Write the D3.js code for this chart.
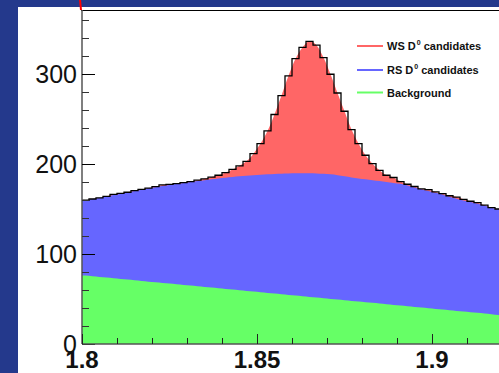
<!DOCTYPE html>
<html><head><meta charset="utf-8">
<script src="https://cdn.jsdelivr.net/npm/d3@7"></script>
<style>html,body{margin:0;padding:0;background:#24398c;overflow:hidden}</style>
</head><body>
<script>
// D0 mass bins: 2 MeV wide starting at 1.800 GeV
const binStart = 1.8, binWidth = 0.002;
const background = [76.0,75.3,74.5,73.8,73.0,72.3,71.6,70.8,70.1,69.3,68.6,67.9,67.1,66.4,65.6,64.9,64.2,63.4,62.7,61.9,
  61.2,60.5,59.7,59.0,58.2,57.5,56.8,56.0,55.3,54.5,53.8,53.1,52.3,51.6,50.8,50.1,49.4,48.6,47.9,47.1,
  46.4,45.7,44.9,44.2,43.4,42.7,42.0,41.2,40.5,39.7,39.0,38.3,37.5,36.8,36.0,35.3,34.6,33.8,33.1,32.3];
const rsCandidates = [83.7,85.7,87.8,90.0,92.5,94.7,96.9,99.2,101.4,103.7,105.7,107.7,109.7,111.6,113.4,115.1,116.8,118.6,120.3,122.1,
  123.6,125.1,126.6,128.0,129.4,130.6,131.8,133.0,134.0,135.0,135.9,136.7,137.4,137.9,138.3,138.4,138.2,137.7,137.1,136.9,
  136.6,136.3,136.1,135.8,135.6,135.3,134.0,132.8,131.5,130.3,129.0,127.7,126.0,124.7,123.5,122.4,121.2,120.2,118.2,117.2];
const wsCandidates = [0,0.1,0,0.2,0.8,0.4,0.1,0.4,0.4,0.3,0.5,1.1,0.5,0.3,0.3,0.5,1.0,1.5,2.5,3.5,
  5.7,8.4,11.7,16.0,23.9,34.6,48.1,66.0,86.7,108.5,127.3,139.7,146.6,142.5,129.1,111.2,91.3,72.3,53.2,38.7,
  26.7,18.4,12.0,7.5,6.0,2.5,1.5,1.0,0.3,1.5,1.0,1.0,1.2,1.8,1.3,0.9,1.2,0.3,0.2,0.5];
const yTicks = [0,100,200,300];
const xTicks = [1.8,1.85,1.9];
const legendItems = [
  {label:"WS D", sup:"0", rest:" candidates", color:"#ff6666"},
  {label:"RS D", sup:"0", rest:" candidates", color:"#6666ff"},
  {label:"Background", sup:"", rest:"", color:"#66ff66"}
];

const W = 499, H = 373;
const svg = d3.select("body").append("svg").attr("width", W).attr("height", H);
svg.append("rect").attr("width", W).attr("height", H).attr("fill", "#24398c");
svg.append("rect").attr("x", 18).attr("y", 7).attr("width", W - 18).attr("height", H - 7).attr("fill", "#ffffff");
svg.append("line").attr("x1", 80).attr("x2", 81).attr("y1", 0).attr("y2", 10)
  .attr("stroke", "#ff0000").attr("stroke-width", 2);

const x = d3.scaleLinear().domain([1.8, 1.92]).range([82, 502]);
const y = d3.scaleLinear().domain([0, 371.1]).range([344, 10]);

const rows = background.map((b, i) => ({
  m: binStart + binWidth * (i + 0.5),
  lo: binStart + binWidth * i,
  bg: b, rs: rsCandidates[i], ws: wsCandidates[i]
}));
const stack = d3.stack().keys(["bg", "rs", "ws"])(rows);

svg.append("clipPath").attr("id", "clip").append("rect")
  .attr("x", 82).attr("y", 10).attr("width", W - 82).attr("height", 334);
const g = svg.append("g").attr("clip-path", "url(#clip)");

const colors = {bg: "#66ff66", rs: "#6666ff", ws: "#ff6666"};
const order = ["ws", "rs", "bg"];
order.forEach(key => {
  const s = stack.find(d => d.key === key);
  const pts = s.map((d, i) => ({m: rows[i].m, top: d[1]}));
  pts.unshift({m: binStart, top: pts[0].top});
  pts.push({m: 1.93, top: pts[pts.length - 1].top});
  g.append("path").datum(pts)
    .attr("fill", colors[key])
    .attr("d", d3.area().x(d => x(d.m)).y0(y(0)).y1(d => y(d.top)).curve(d3.curveMonotoneX));
});

// data histogram outline (total)
const tot = stack[2];
const histPts = tot.map((d, i) => ({m: rows[i].lo, v: d[1]}));
histPts.push({m: binStart + binWidth * rows.length, v: tot[tot.length - 1][1]});
g.append("path").datum(histPts)
  .attr("fill", "none").attr("stroke", "#000").attr("stroke-width", 1.3)
  .attr("d", d3.line().x(d => x(d.m)).y(d => y(d.v)).curve(d3.curveStepAfter));

// frame top
svg.append("line").attr("x1", 81).attr("x2", W).attr("y1", 10.5).attr("y2", 10.5)
  .attr("stroke", "#000").attr("stroke-width", 1);

// Y axis
const yAxisG = svg.append("g");
yAxisG.append("line").attr("x1", 82).attr("x2", 82).attr("y1", 10).attr("y2", 344)
  .attr("stroke", "#555").attr("stroke-width", 1.5);
d3.range(0, 371, 20).forEach(v => {
  const major = yTicks.includes(v);
  yAxisG.append("line").attr("x1", 82).attr("x2", 82 + (major ? 13 : 7))
    .attr("y1", Math.round(y(v)) + 0.5).attr("y2", Math.round(y(v)) + 0.5)
    .attr("stroke", major ? "#000" : "#333").attr("stroke-width", 1);
});
yTicks.forEach(v => {
  yAxisG.append("text").attr("x", 77).attr("y", y(v)).attr("dy", "0.36em")
    .attr("text-anchor", "end").attr("font-family", "Liberation Sans, Arial, sans-serif")
    .attr("font-size", 25).attr("fill", "#111").text(v);
});

// X axis
const xAxisG = svg.append("g");
xAxisG.append("line").attr("x1", 82).attr("x2", W).attr("y1", 344).attr("y2", 344)
  .attr("stroke", "#555").attr("stroke-width", 1.5);
d3.range(0, 13).forEach(i => {
  const v = 1.8 + i * 0.01;
  const major = i % 5 === 0;
  const px = Math.round(x(v)) + 0.5;
  if (px > W) return;
  xAxisG.append("line").attr("x1", px).attr("x2", px).attr("y1", 344).attr("y2", 344 - (major ? 10 : 6))
    .attr("stroke", "#222").attr("stroke-width", 1);
});
xTicks.forEach(v => {
  xAxisG.append("text").attr("x", x(v)).attr("y", 368)
    .attr("text-anchor", "middle").attr("font-family", "Liberation Sans, Arial, sans-serif")
    .attr("font-weight", "bold").attr("font-size", 24).attr("fill", "#111")
    .text(d3.format("")(v));
});

// Legend
const legY = [46, 70, 92.5];
legendItems.forEach((it, i) => {
  svg.append("line").attr("x1", 357).attr("x2", 383).attr("y1", legY[i]).attr("y2", legY[i])
    .attr("stroke", it.color).attr("stroke-width", 2);
  const t = svg.append("text").attr("x", 387).attr("y", legY[i] + 4)
    .attr("font-family", "Liberation Sans, Arial, sans-serif").attr("font-weight", "bold")
    .attr("font-size", 11).attr("fill", "#111");
  t.append("tspan").text(it.label);
  if (it.sup) {
    t.append("tspan").attr("dx", 1).attr("dy", -5).attr("font-size", 7).text(it.sup);
    t.append("tspan").attr("dy", 5).text(it.rest);
  }
});
</script>
</body></html>
